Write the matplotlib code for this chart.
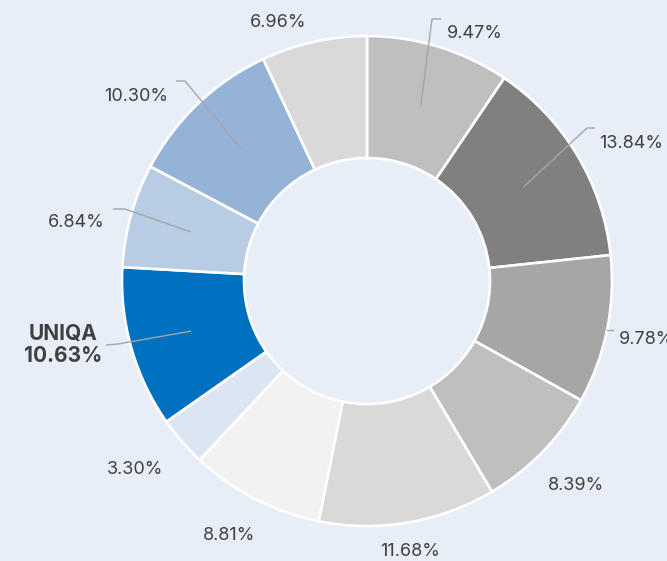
import math
import matplotlib.pyplot as plt

# ---- data (clockwise from 12 o'clock) ----
shares = [9.47, 13.84, 9.78, 8.39, 11.68, 8.81, 3.30, 10.63, 6.84, 10.30, 6.96]
labels = ["9.47%", "13.84%", "9.78%", "8.39%", "11.68%", "8.81%", "3.30%",
          "UNIQA\n10.63%", "6.84%", "10.30%", "6.96%"]
colors = ["#bfbfbf", "#808080", "#a6a6a6", "#bfbfbf", "#d9d9d9", "#f2f2f2",
          "#dce6f2", "#0070c0", "#b8cce4", "#95b3d7", "#d9d9d9"]

BG = "#e8eef8"
TXT = "#404040"
LINE = "#a6a6a6"

# layout in pixel space (y measured from the top of the image)
W, H = 667, 561
CX, CY, R = 367, 281, 245
RING = 122

# label text position, alignment, and leader line (elbow, end) or None
label_pos = [
    ((447, 33), "left", ((432, 19), (441, 19))),
    ((599, 143), "left", ((587, 128), (595, 128))),
    ((619, 340), "left", "tick"),
    ((576, 485), "center", None),
    ((410, 551), "center", None),
    ((229, 535), "center", None),
    ((135, 470), "center", None),
    ((63, 345), "center", ((118, 344), (106, 345))),
    ((105, 222), "right", ((125, 209), (113, 209))),
    ((168, 96), "right", ((185, 81), (176, 81))),
    ((278, 22), "center", None),
]

plt.rcParams['font.family'] = ['Inter', 'DejaVu Sans']

fig = plt.figure(figsize=(W / 100, H / 100), dpi=100, facecolor=BG)
ax = fig.add_axes([0, 0, 1, 1])
ax.set_facecolor(BG)

wedges, _ = ax.pie(shares, colors=colors, startangle=90, counterclock=False,
                   center=(CX, H - CY), radius=R,
                   wedgeprops=dict(width=RING, edgecolor="white", linewidth=1.9))

for w, lab, (pos, ha, lead) in zip(wedges, labels, label_pos):
    mid = math.radians((w.theta1 + w.theta2) / 2)
    if lead == "tick":
        ax.plot([CX + R * math.cos(mid), CX + R * math.cos(mid) + 6],
                [H - CY + R * math.sin(mid)] * 2, color=LINE, lw=1)
    elif lead is not None:
        ar = 183
        ax_, ay_ = CX + ar * math.cos(mid), H - CY + ar * math.sin(mid)
        (ex, ey), (fx, fy) = lead
        ax.plot([ax_, ex, fx], [ay_, H - ey, H - fy], color=LINE, lw=1,
                solid_capstyle="butt")
    bold = lab.startswith("UNIQA")
    ax.text(pos[0], H - pos[1], lab, ha=ha, va="center",
            fontsize=15 if bold else 13,
            color=TXT, fontweight="bold" if bold else "normal",
            linespacing=1.1)

ax.set_xlim(0, W)
ax.set_ylim(0, H)
ax.set_aspect("equal")
ax.axis("off")

fig.savefig("out.png", dpi=100, facecolor=BG)
